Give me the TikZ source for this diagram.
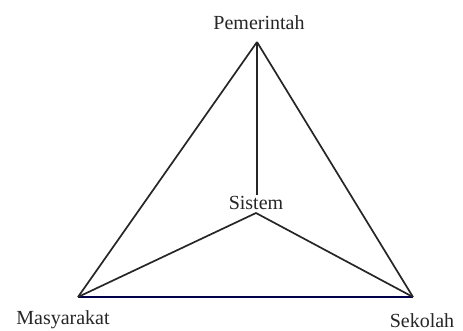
\documentclass[tikz,border=0pt]{standalone}
\usepackage{fontspec}
\setmainfont{Liberation Serif}
\begin{document}
\begin{tikzpicture}[x=1pt,y=-1pt,
  edge/.style={draw=black!85, line width=1.7pt, line join=round},
  lab/.style={font=\fontsize{20}{20}\selectfont, text=black!85, inner sep=0pt, anchor=base}]
\useasboundingbox (0,0) rectangle (463,330);
\coordinate (top) at (257,42);
\coordinate (bl) at (78,297);
\coordinate (br) at (413,297);
\coordinate (c) at (256,213);
\node[lab] (pem) at (259,29) {Pemerintah};
\node[lab, fill=white, inner sep=1pt] (sis) at (256,209) {Sistem};
\node[lab] (mas) at (63,324) {Masyarakat};
\node[lab] (sek) at (422,327) {Sekolah};
\draw[edge] (top) -- (bl);
\draw[edge] (top) -- (br);
\draw[edge, draw=black!70!blue] (bl) -- (br);
\draw[edge] (top) -- (top |- sis.north);
\draw[edge] (bl) -- (c) -- (br);
\end{tikzpicture}
\end{document}
